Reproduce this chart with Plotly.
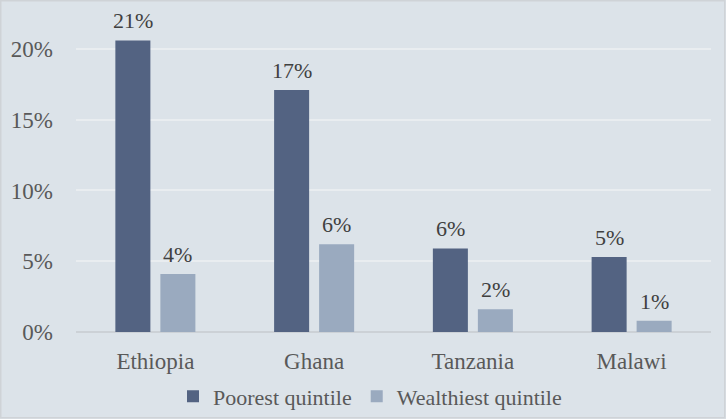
import plotly.graph_objects as go

countries = ["Ethiopia", "Ghana", "Tanzania", "Malawi"]
poorest = [20.6, 17.1, 5.9, 5.3]
wealthiest = [4.1, 6.2, 1.6, 0.8]
tick_vals = [0, 5, 10, 15, 20]
tick_text = ["0%", "5%", "10%", "15%", "20%"]

FONT = "'Liberation Serif', 'Times New Roman', 'DejaVu Serif', serif"
TXT = "#595959"
BG = "#dce3e9"

fig = go.Figure()
fig.add_trace(go.Bar(
    x=countries, y=poorest, name="Poorest quintile",
    marker=dict(color="#536382", line=dict(width=0)),
))
fig.add_trace(go.Bar(
    x=countries, y=wealthiest, name="Wealthiest quintile",
    marker=dict(color="#9aaabf", line=dict(width=0)),
))

annotations = []
for series, shift in ((poorest, -22.5), (wealthiest, 22.5)):
    for c, v in zip(countries, series):
        annotations.append(dict(
            x=c, y=v, xref="x", yref="y", text=f"{round(v + 1e-9):.0f}%",
            showarrow=False, xshift=shift, yshift=5, yanchor="bottom",
            font=dict(family=FONT, size=22, color="#404040"),
        ))

W, H = 726, 419
ml, mr, mt, mb = 76, 15, 10, 87
fig.update_layout(
    width=W, height=H,
    margin=dict(l=ml, r=mr, t=mt, b=mb, autoexpand=False),
    paper_bgcolor=BG, plot_bgcolor=BG,
    barmode="group", bargap=0.433, bargroupgap=0.222,
    font=dict(family=FONT, size=22, color=TXT),
    showlegend=True,
    legend=dict(orientation="h", x=0.463, xanchor="center", y=-0.2, yanchor="middle",
                font=dict(family=FONT, size=22, color=TXT), itemwidth=30,
                traceorder="normal", bgcolor="rgba(0,0,0,0)"),
    xaxis=dict(showgrid=False, showline=False, ticks="", tickfont=dict(size=23, color=TXT),
               ticklabelstandoff=13, automargin=False),
    yaxis=dict(range=[0, 22.75], tickvals=tick_vals, ticktext=tick_text,
               showgrid=True, gridcolor="#e9edf0", gridwidth=2,
               zeroline=True, zerolinecolor="#ccd1d6", zerolinewidth=2,
               showline=False, ticks="", tickfont=dict(size=23, color=TXT),
               ticklabelstandoff=22, automargin=False),
    annotations=annotations,
    shapes=[dict(type="rect", xref="paper", yref="paper",
                 x0=-(ml - 0.75) / (W - ml - mr), x1=1 + (mr - 1.25) / (W - ml - mr),
                 y0=-(mb - 1.25) / (H - mt - mb), y1=1 + (mt - 0.75) / (H - mt - mb),
                 line=dict(color="#cfd3d7", width=1.5), layer="below")],
)
fig.write_html("out.html", config={"displayModeBar": False},
               post_script="document.body.style.margin='0';")
